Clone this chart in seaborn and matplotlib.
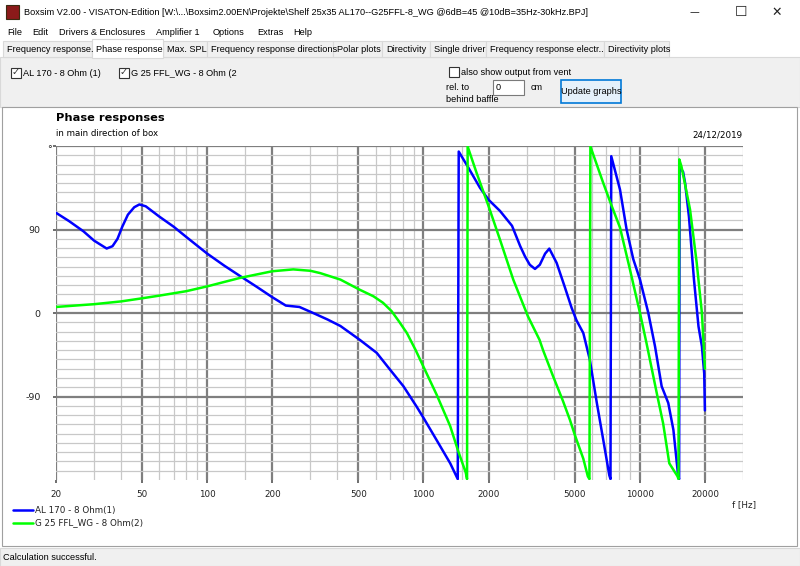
import numpy as np
import pandas as pd
import matplotlib
matplotlib.use("Agg")
import matplotlib.pyplot as plt
from matplotlib.patches import Rectangle
from matplotlib.lines import Line2D
from matplotlib.ticker import FixedLocator, NullFormatter
from matplotlib.transforms import ScaledTranslation
import seaborn as sns

sns.set_theme(style="white")
plt.rcParams['font.family'] = ['DejaVu Sans']

### Data
al170_freq = [20, 23, 26.8, 30, 34.3, 36.5, 38.5, 40.5, 43, 46, 48.6, 52, 60, 70, 80, 100, 120, 141.6,
              170, 200, 231, 267, 309, 360, 413, 508, 608, 700, 808, 930, 1000, 1150, 1329, 1440,
              1455, 1600, 1824, 2000, 2258, 2566, 2800, 2946, 3100, 3277, 3450, 3650, 3816, 4126, 4500, 4842,
              5100, 5480, 5870, 6330, 6780, 7230, 7320,
              7380, 8100, 8690, 9330, 10020, 10950, 11760, 12620, 13540, 14300, 15050, 15200,
              15280, 15860, 16200, 16870, 17800, 18680, 19370, 19850, 20000]
al170_phase = [108, 99, 88, 78, 69.5, 72, 80, 93, 106, 114, 117, 115, 104, 93, 82, 64, 51, 40,
               28, 17, 8, 6.5, 0, -7, -14, -29, -43, -61, -79, -101, -113, -137, -162, -179,
               174, 158, 135, 122, 110, 94, 72, 61, 52, 47.5, 52, 64, 69.4, 54, 28, 5.4,
               -8, -21.6, -50, -97, -137, -175, -179,
               169, 133, 90, 58, 36, 0, -36, -79, -97, -126, -176, -179,
               158, 152, 140, 104, 36, -14.5, -36, -65, -105]

g25_freq = [20, 30, 40, 48.6, 60, 80, 100, 141.6, 200, 250, 300, 333, 413, 508, 587, 650, 712, 770, 838,
            920, 1000, 1150, 1329, 1443, 1568, 1590,
            1600, 1760, 2000, 2258, 2600, 3040, 3440, 3570, 3970, 4400, 4750, 5000, 5480, 5750, 5850,
            5910, 6780, 7370, 8100, 8940, 10020, 10730, 11970, 12820, 13690, 14300, 14940, 15100,
            15220, 15580, 17070, 18330, 19370, 20000]
g25_phase = [6.5, 9.5, 12.5, 15.4, 18.7, 23.5, 28.7, 37.8, 45, 47, 45.5, 43, 36, 25, 18, 11, 2, -9, -21.6,
             -40, -58, -88, -122, -148, -172, -179,
             179.5, 151, 115, 79, 36, -3.6, -29, -40, -68, -94, -115, -131, -157, -176, -179,
             179.5, 140, 117, 92, 50, 0, -32, -86, -119, -162, -169, -176, -179,
             165.6, 158, 111.6, 54, 0, -60]

series_names = ["AL 170 - 8 Ohm(1)", "G 25 FFL_WG - 8 Ohm(2)"]
series_colors = ["#0000ff", "#00ff00"]

x_major = [20, 50, 100, 200, 500, 1000, 2000, 5000, 10000, 20000]
x_minor = [30, 40, 60, 70, 80, 90, 150, 300, 400, 600, 700, 800, 900, 1500,
           3000, 4000, 6000, 7000, 8000, 9000, 15000, 30000]
y_major = [-90, 0, 90, 180]
y_labels = ["-90", "0", "90", "°"]
y_minor = [v for v in range(-170, 180, 10) if v % 90 != 0]

tabs = ["Frequency response.", "Phase response", "Max. SPL", "Frequency response directions",
        "Polar plots", "Directivity", "Single driver", "Frequency response electr..", "Directivity plots"]
tab_edges = [3, 92, 163, 207, 333, 382, 430, 486, 604, 669]
menu_items = ["File", "Edit", "Drivers & Enclosures", "Amplifier 1", "Options", "Extras", "Help"]
menu_x = [7, 32, 59, 156, 213, 257, 293]

df = pd.concat([
    pd.DataFrame({"f": al170_freq, "phase": al170_phase, "driver": series_names[0]}),
    pd.DataFrame({"f": g25_freq, "phase": g25_phase, "driver": series_names[1]}),
], ignore_index=True)

### Figure in pixel coordinates
W, H = 800, 566
fig = plt.figure(figsize=(8, 5.66), dpi=100, facecolor="white")

def fx(x):
    return x / W

def fy(y):
    return 1 - y / H

def box(x0, y0, x1, y1, zorder=-5, **kw):
    fig.patches.append(Rectangle((fx(x0), fy(y1)), (x1 - x0) / W, (y1 - y0) / H,
                                 transform=fig.transFigure, zorder=zorder, **kw))

def label(x, y, s, **kw):
    kw.setdefault("va", "center")
    fig.text(fx(x), fy(y), s, **kw)

def hline(x0, x1, y, **kw):
    fig.add_artist(Line2D([fx(x0), fx(x1)], [fy(y), fy(y)], transform=fig.transFigure, **kw))

ui_font = dict(family="Liberation Sans", size=6.6, color="black")

# window chrome
box(6, 5, 19, 19, facecolor="#8b1a1a", edgecolor="#3a2a10", lw=0.8)
label(24, 12.5, "Boxsim V2.00 - VISATON-Edition [W:\\...\\Boxsim2.00EN\\Projekte\\Shelf 25x35 "
      "AL170--G25FFL-8_WG @6dB=45 @10dB=35Hz-30kHz.BPJ]", **ui_font)
label(694, 12, "—", ha="center", family="DejaVu Sans", size=7, color="#222222")
label(741, 12, "☐", ha="center", family="DejaVu Sans", size=10, color="#222222")
label(777, 12, "✕", ha="center", family="DejaVu Sans", size=9, color="#222222")
for name, x in zip(menu_items, menu_x):
    label(x, 32.5, name, **ui_font)

# tabs
box(0, 57, 800, 107, facecolor="#f0f0f0", edgecolor="#d9d9d9", lw=0.8)
for i, name in enumerate(tabs):
    x0, x1 = tab_edges[i], tab_edges[i + 1]
    if i == 1:
        box(x0, 39, x1, 58, facecolor="white", edgecolor="#d9d9d9", lw=0.8, zorder=-3)
    else:
        box(x0, 41, x1, 57, facecolor="#f0f0f0", edgecolor="#d9d9d9", lw=0.8)
    label(x0 + 4, 49.5, name, **ui_font)

# control panel
for x, name in [(11, "AL 170 - 8 Ohm (1)"), (119, "G 25 FFL_WG - 8 Ohm (2")]:
    box(x, 68, x + 10, 78, facecolor="white", edgecolor="#333333", lw=0.8)
    label(x + 5, 72.5, "✓", ha="center", family="DejaVu Sans", size=7, color="#333333")
    label(x + 12, 73, name, **ui_font)
box(449, 67, 459, 77, facecolor="white", edgecolor="#333333", lw=0.8)
label(461, 72.5, "also show output from vent", **ui_font)
label(446, 88, "rel. to", **ui_font)
label(446, 100, "behind baffle", **ui_font)
box(493, 80, 524, 95, facecolor="white", edgecolor="#7a7a7a", lw=0.8)
label(496, 87.5, "0", **ui_font)
label(531, 88, "cm", **ui_font)
box(561, 80, 621, 103, facecolor="#e5f1fb", edgecolor="#0078d7", lw=1.2)
label(591, 91.5, "Update graphs", ha="center", **ui_font)

# chart panel and status bar
box(2, 107, 797, 546, facecolor="white", edgecolor="#a0a0a0", lw=0.8)
box(0, 548, 800, 566, facecolor="#f0f0f0", edgecolor="#d9d9d9", lw=0.8)
label(3, 557, "Calculation successful.", **ui_font)

### Chart
ax = fig.add_axes([fx(56), fy(480), (743 - 56) / W, (480 - 146) / H])
ax.set_zorder(5)
ax.set_facecolor("white")

sns.lineplot(data=df, x="f", y="phase", hue="driver", palette=series_colors,
             estimator=None, sort=False, linewidth=1.8, legend=False, ax=ax, zorder=3)

ax.set_xscale("log")
ax.set_xlim(20, 30000)
ax.set_ylim(-180, 180)
ax.xaxis.set_major_locator(FixedLocator(x_major))
ax.xaxis.set_minor_locator(FixedLocator(x_minor))
ax.xaxis.set_minor_formatter(NullFormatter())
ax.set_xticklabels([str(v) for v in x_major])
ax.yaxis.set_major_locator(FixedLocator(y_major))
ax.yaxis.set_minor_locator(FixedLocator(y_minor))
ax.set_yticklabels(y_labels)

ax.grid(which="major", color="#7f7f7f", linewidth=1.6)
ax.grid(which="minor", color="#c8c8c8", linewidth=0.9)
ax.set_axisbelow(True)
for s in ax.spines.values():
    s.set_visible(False)

ax.tick_params(axis="both", which="major", colors="#555555", labelcolor="#222222")
ax.tick_params(axis="x", which="major", labelsize=6.3, length=2.5, width=1.2, pad=5, bottom=True)
ax.tick_params(axis="y", which="major", labelsize=6.8, length=2.2, width=1.2, pad=9, left=True)
ax.tick_params(which="minor", length=0)
ax.set_xlabel("")
ax.set_ylabel("")

# the 180 label is just a degree sign tucked against the axis
deg = ax.yaxis.get_major_ticks()[-1].label1
deg.set_transform(deg.get_transform() + ScaledTranslation(0.11, -0.03, fig.dpi_scale_trans))

# titles
label(56, 118, "Phase responses", family="DejaVu Sans", weight="bold", size=8.2, color="black")
label(56, 134, "in main direction of box", family="DejaVu Sans", size=6.2, color="black")
label(743, 135, "24/12/2019", ha="right", family="DejaVu Sans", size=6.3, color="black")
label(756, 505, "f [Hz]", ha="right", family="DejaVu Sans", size=6.3, color="#222222")

# legend
for i, (name, col) in enumerate(zip(series_names, series_colors)):
    y = 510 + 12.7 * i
    hline(13, 33, y, color=col, lw=1.8)
    label(35, y, name, family="DejaVu Sans", size=6.3, color="#222222")

fig.savefig("out.png", dpi=100)
